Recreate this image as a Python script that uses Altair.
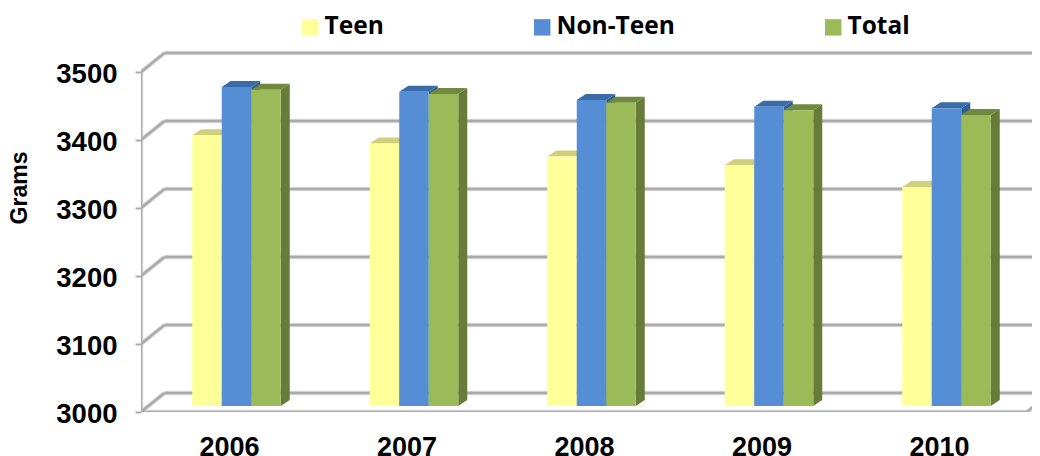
import altair as alt
import pandas as pd

years = [2006, 2007, 2008, 2009, 2010]
teen = [3398, 3386, 3367, 3354, 3322]
non_teen = [3469, 3462, 3450, 3440, 3438]
total = [3465, 3459, 3446, 3435, 3428]
series = ["Teen", "Non-Teen", "Total"]
values = {"Teen": teen, "Non-Teen": non_teen, "Total": total}
y_ticks = [3000, 3100, 3200, 3300, 3400, 3500]

front = {"Teen": "#FFFF99", "Non-Teen": "#558ED5", "Total": "#9BBB59"}
top_c = {"Teen": "#CFCF7C", "Non-Teen": "#3A6CA8", "Total": "#71893F"}
side_c = {"Teen": "#B5B56C", "Non-Teen": "#2F5F96", "Total": "#677C39"}
GRID = "#ABABAB"

PLOT_W, PLOT_H = 891, 372
PX_X = 177.5          # pixels per year
PX_Y = 0.68           # pixels per gram
X0 = 2006 - 88 / PX_X
X1 = X0 + PLOT_W / PX_X
Y0, Y1 = 3000, 3000 + PLOT_H / PX_Y

def dx(p):
    return p / PX_X

def dy(p):
    return p / PX_Y

x_scale = alt.Scale(domain=[X0, X1], nice=False, zero=False)
y_scale = alt.Scale(domain=[Y0, Y1], nice=False, zero=False)

x_axis = alt.Axis(
    values=years, format="d", ticks=False, domain=False, grid=False, title=None,
    labelFontSize=27, labelFontWeight="bold", labelFont="Liberation Sans",
    labelColor="#000000", labelPadding=22, labelOverlap=False)
y_axis = alt.Axis(
    values=y_ticks, format="d", domain=False, grid=False, tickSize=6, title="Grams",
    tickColor=GRID, tickWidth=2, labelFontSize=27.5, labelFontWeight="bold",
    labelFont="Liberation Sans", labelColor="#000000", labelPadding=18, labelOffset=2,
    titleFontSize=23, titleFontWeight="bold", titleFont="Liberation Sans",
    titleColor="#000000", titleX=-110, titleY=147.5)

# Chart frame: back wall, side wall, floor
wall_dx, wall_dy = dx(23.5), dy(19)
rules = []
for v in y_ticks:
    rules.append(dict(x=X0 + wall_dx, x2=X1 + 1, y=v + wall_dy, y2=v + wall_dy))
    rules.append(dict(x=X0, x2=X0 + wall_dx, y=v, y2=v + wall_dy))
rules.append(dict(x=X0, x2=X0, y=3000, y2=3500))
floor_end = X0 + dx(886)
rules.append(dict(x=X0, x2=floor_end, y=3000, y2=3000))
rules.append(dict(x=floor_end, x2=floor_end + wall_dx, y=3000, y2=3000 + wall_dy))
rules_df = pd.DataFrame(rules)

X = alt.X("x:Q", scale=x_scale, axis=x_axis)
Y = alt.Y("y:Q", scale=y_scale, axis=y_axis)

grid_shadow = alt.Chart(rules_df).mark_rule(color="#DDDDDD", strokeWidth=4.5, clip=True).encode(
    x=X, x2="x2:Q", y=Y, y2="y2:Q")
grid = alt.Chart(rules_df).mark_rule(color=GRID, strokeWidth=2.6, clip=True).encode(
    x=X, x2="x2:Q", y=Y, y2="y2:Q")

layers = [grid_shadow, grid]

BAR_W = dx(29.5)
BAR_DX = dx(7.5)    # front face shift from the front axis plane
BAR_DY = dy(6)
D_X = dx(9)         # bar depth
D_Y = dy(6)

color_scale = alt.Scale(domain=series, range=[front[s] for s in series])

for i, s in enumerate(series):
    side_rows, top_rows, front_rows = [], [], []
    for yr, v in zip(years, values[s]):
        left = yr + BAR_DX + (i - 1.5) * BAR_W
        right = left + BAR_W
        ytop = v + BAR_DY
        ybot = 3000 + BAR_DY
        front_rows.append(dict(s=s, x=left, x2=right, y=ytop, y2=ybot))
        side_rows.append(dict(yr=yr, x=right, y=ytop, y2=ybot))
        side_rows.append(dict(yr=yr, x=right + D_X, y=ytop + D_Y, y2=ybot + D_Y))
        top_rows.append(dict(yr=yr, y=ytop, x=left, x2=right))
        top_rows.append(dict(yr=yr, y=ytop + D_Y, x=left + D_X, x2=right + D_X))
    layers.append(alt.Chart(pd.DataFrame(side_rows)).mark_area(
        color=side_c[s], orient="vertical", clip=True).encode(
        x=X, y=Y, y2="y2:Q", detail="yr:N"))
    layers.append(alt.Chart(pd.DataFrame(top_rows)).mark_area(
        color=top_c[s], orient="horizontal", clip=True).encode(
        y=Y, x=X, x2="x2:Q", detail="yr:N"))
    layers.append(alt.Chart(pd.DataFrame(front_rows)).mark_rect().encode(
        x=X, x2="x2:Q", y=Y, y2="y2:Q",
        color=alt.Color("s:N", scale=color_scale, legend=alt.Legend(
            title=None, orient="none", legendX=157, legendY=-25, direction="horizontal",
            columns=3, columnPadding=146, symbolType="square", symbolSize=270,
            symbolStrokeWidth=0, symbolOpacity=1, labelFontSize=24.5, labelFontWeight="bold",
            labelFont="Open Sans", labelColor="#000000", labelOffset=2, padding=0))))

chart = alt.layer(*layers).properties(
    width=PLOT_W, height=PLOT_H,
    padding={"left": 133, "top": 32, "right": 0, "bottom": 44},
    autosize=alt.AutoSizeParams(type="none"),
).configure_view(stroke=None)

chart.save("out.html", embed_options={"renderer": "svg", "actions": False})
